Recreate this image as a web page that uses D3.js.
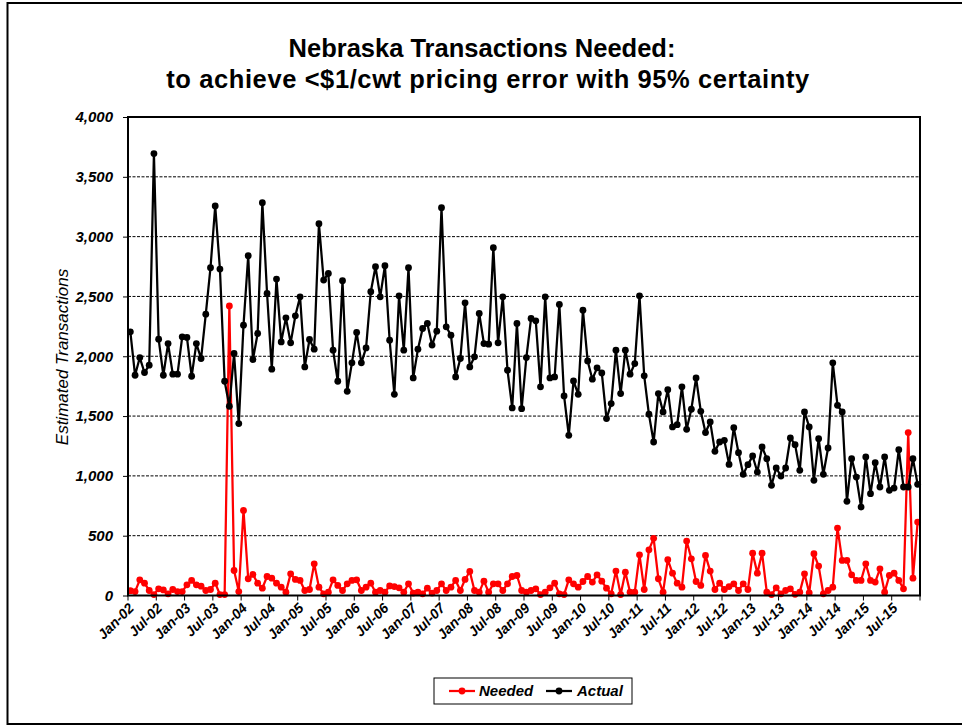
<!DOCTYPE html>
<html>
<head>
<meta charset="utf-8">
<script src="https://cdn.jsdelivr.net/npm/d3@7"></script>
<style>
  html, body { margin: 0; padding: 0; background: #fff; }
  svg { display: block; }
  text { font-family: "Liberation Sans", Arial, sans-serif; fill: #000; }
</style>
</head>
<body>
<div id="chart"></div>
<script>
// Monthly series, Jan-2002 through Dec-2015
const startYear = 2002;
const monthCount = 168;

const needed = [
  40, 33, 131, 103, 42, 8, 56, 47, 14, 50, 33, 33,
  89, 126, 89, 78, 42, 50, 103, 8, 8, 2420, 209, 33,
  711, 140, 176, 103, 61, 159, 145, 103, 70, 28, 181, 134,
  126, 42, 50, 265, 70, 14, 28, 131, 84, 42, 98, 126,
  131, 42, 70, 103, 28, 42, 28, 80, 75, 64, 28, 98,
  20, 28, 14, 61, 20, 42, 98, 42, 70, 126, 42, 134,
  201, 42, 28, 120, 28, 98, 98, 42, 98, 159, 167, 42,
  28, 42, 56, 8, 28, 64, 103, 14, 8, 131, 98, 70,
  117, 159, 112, 173, 120, 61, 14, 204, 8, 195, 28, 28,
  340, 50, 382, 478, 140, 28, 299, 187, 103, 70, 455, 307,
  117, 84, 335, 204, 50, 103, 50, 75, 98, 42, 98, 50,
  354, 187, 354, 28, 8, 64, 14, 42, 56, 10, 28, 181,
  22, 349, 246, 14, 42, 70, 564, 293, 293, 173, 126, 126,
  265, 126, 112, 223, 28, 167, 187, 126, 56, 1362, 145, 614
];

const actual = [
  2204, 1841, 1989, 1864, 1925, 3694, 2143, 1841, 2106, 1850, 1850, 2162,
  2157, 1833, 2106, 1981, 2352, 2740, 3256, 2729, 1791, 1582, 2023, 1437,
  2260, 2840, 1973, 2190, 3284, 2525, 1892, 2645, 2120, 2321, 2112, 2338,
  2497, 1911, 2140, 2059, 3108, 2637, 2692, 2051, 1791, 2631, 1707, 1945,
  2199, 1945, 2070, 2539, 2748, 2497, 2757, 2134, 1682, 2505, 2051, 2740,
  1819, 2059, 2232, 2274, 2093, 2210, 3242, 2246, 2176, 1827, 1981, 2447,
  1911, 1995, 2358, 2106, 2101, 2907, 2112, 2497, 1883, 1568, 2274, 1562,
  1989, 2316, 2296, 1744, 2497, 1819, 1827, 2433, 1668, 1339, 1794, 1682,
  2385, 1961, 1808, 1903, 1861, 1479, 1604, 2051, 1688, 2051, 1850, 1939,
  2505, 1836, 1515, 1283, 1688, 1535, 1721, 1409, 1428, 1744, 1389, 1557,
  1819, 1540, 1362, 1451, 1205, 1283, 1297, 1096, 1403, 1194, 1013, 1094,
  1166, 1032, 1242, 1144, 921, 1066, 999, 1066, 1317, 1261, 1046, 1535,
  1409, 963, 1311, 1013, 1233, 1945, 1590, 1535, 787, 1144, 990, 739,
  1158, 851, 1110, 907, 1158, 879, 898, 1219, 907, 907, 1144, 929
];

const yTicks = [0, 500, 1000, 1500, 2000, 2500, 3000, 3500, 4000];
const monthNames = ["Jan", "Feb", "Mar", "Apr", "May", "Jun", "Jul", "Aug", "Sep", "Oct", "Nov", "Dec"];
const categories = d3.range(monthCount).map(i =>
  monthNames[i % 12] + "-" + String((startYear + Math.floor(i / 12)) % 100).padStart(2, "0"));

const seriesList = [
  { name: "Needed", color: "#ff0000", values: needed },
  { name: "Actual", color: "#000000", values: actual }
];

const W = 962, H = 725;
const plot = { left: 128, right: 920, top: 117, bottom: 595.5 };

const svg = d3.select("#chart").append("svg")
  .attr("width", W).attr("height", H);

// outer frame
svg.append("rect")
  .attr("x", 7.5).attr("y", 3).attr("width", 960).attr("height", 721)
  .attr("fill", "#fff").attr("stroke", "#000").attr("stroke-width", 2);

// title
const title = svg.append("text")
  .attr("text-anchor", "middle")
  .style("font-weight", "bold").style("font-size", "25.5px");
title.append("tspan").attr("x", 482).attr("y", 56.5).text("Nebraska Transactions Needed:");
title.append("tspan").attr("x", 488).attr("y", 88)
  .style("letter-spacing", "0.6px")
  .text("to achieve <$1/cwt pricing error with 95% certainty");

const x = d3.scaleBand().domain(d3.range(monthCount)).range([plot.left, plot.right]).padding(0);
const cx = i => x(i) + x.bandwidth() / 2;
const y = d3.scaleLinear().domain([0, 4000]).range([plot.bottom, plot.top]);

// horizontal dashed gridlines
svg.append("g").selectAll("line")
  .data(yTicks.filter(v => v > 0 && v < 4000))
  .join("line")
  .attr("x1", plot.left).attr("x2", plot.right)
  .attr("y1", d => y(d)).attr("y2", d => y(d))
  .attr("stroke", "#000").attr("stroke-width", 1)
  .attr("stroke-dasharray", "3,1.5");

// y axis
const yAxis = svg.append("g")
  .attr("transform", `translate(${plot.left},0)`)
  .call(d3.axisLeft(y).tickValues(yTicks).tickSize(5).tickPadding(10)
    .tickFormat(d3.format(",")));
yAxis.select(".domain").remove();
yAxis.selectAll(".tick line").attr("stroke", "#000").attr("stroke-width", 1);
yAxis.selectAll(".tick text")
  .style("font-size", "15px").style("font-weight", "bold").style("font-style", "italic")
  .attr("fill", "#000");

// y axis title
svg.append("text")
  .attr("transform", "translate(68,357) rotate(-90)")
  .attr("text-anchor", "middle")
  .style("font-size", "17px").style("font-style", "italic")
  .text("Estimated Transactions");

// x axis: ticks at every sixth category boundary
const boundaryTicks = d3.range(0, monthCount + 1, 6);
svg.append("g").selectAll("line")
  .data(boundaryTicks)
  .join("line")
  .attr("x1", d => plot.left + d * x.bandwidth())
  .attr("x2", d => plot.left + d * x.bandwidth())
  .attr("y1", plot.bottom).attr("y2", plot.bottom + 5)
  .attr("stroke", "#000").attr("stroke-width", 1);

svg.append("g").selectAll("text")
  .data(d3.range(0, monthCount, 6))
  .join("text")
  .attr("transform", d => `translate(${cx(d) + 1},${plot.bottom + 10}) rotate(-45)`)
  .attr("text-anchor", "end")
  .attr("dy", "0.35em")
  .style("font-size", "14px").style("font-weight", "bold").style("font-style", "italic")
  .text(d => categories[d]);

// series lines and markers
const line = d3.line().x((d, i) => cx(i)).y(d => y(d));
seriesList.forEach(s => {
  const g = svg.append("g");
  g.append("path")
    .datum(s.values)
    .attr("d", line)
    .attr("fill", "none")
    .attr("stroke", s.color)
    .attr("stroke-width", 2.25)
    .attr("stroke-linejoin", "round");
  g.selectAll("circle")
    .data(s.values)
    .join("circle")
    .attr("cx", (d, i) => cx(i))
    .attr("cy", d => y(d))
    .attr("r", 3.4)
    .attr("fill", s.color);
});

// plot area border
svg.append("rect")
  .attr("x", plot.left).attr("y", plot.top)
  .attr("width", plot.right - plot.left).attr("height", plot.bottom - plot.top)
  .attr("fill", "none").attr("stroke", "#000").attr("stroke-width", 2);

// legend
const legend = svg.append("g");
legend.append("rect")
  .attr("x", 434).attr("y", 678).attr("width", 198).attr("height", 26)
  .attr("fill", "#fff").attr("stroke", "#000").attr("stroke-width", 1);
const legendItems = [
  { s: seriesList[0], x0: 449, tx: 479 },
  { s: seriesList[1], x0: 546, tx: 577 }
];
legendItems.forEach(it => {
  legend.append("line")
    .attr("x1", it.x0).attr("x2", it.x0 + 26)
    .attr("y1", 691).attr("y2", 691)
    .attr("stroke", it.s.color).attr("stroke-width", 2.25);
  legend.append("circle")
    .attr("cx", it.x0 + 13).attr("cy", 691).attr("r", 3.4)
    .attr("fill", it.s.color);
  legend.append("text")
    .attr("x", it.tx).attr("y", 691).attr("dy", "0.35em")
    .style("font-size", "15px").style("font-weight", "bold").style("font-style", "italic")
    .text(it.s.name);
});
</script>
</body>
</html>
